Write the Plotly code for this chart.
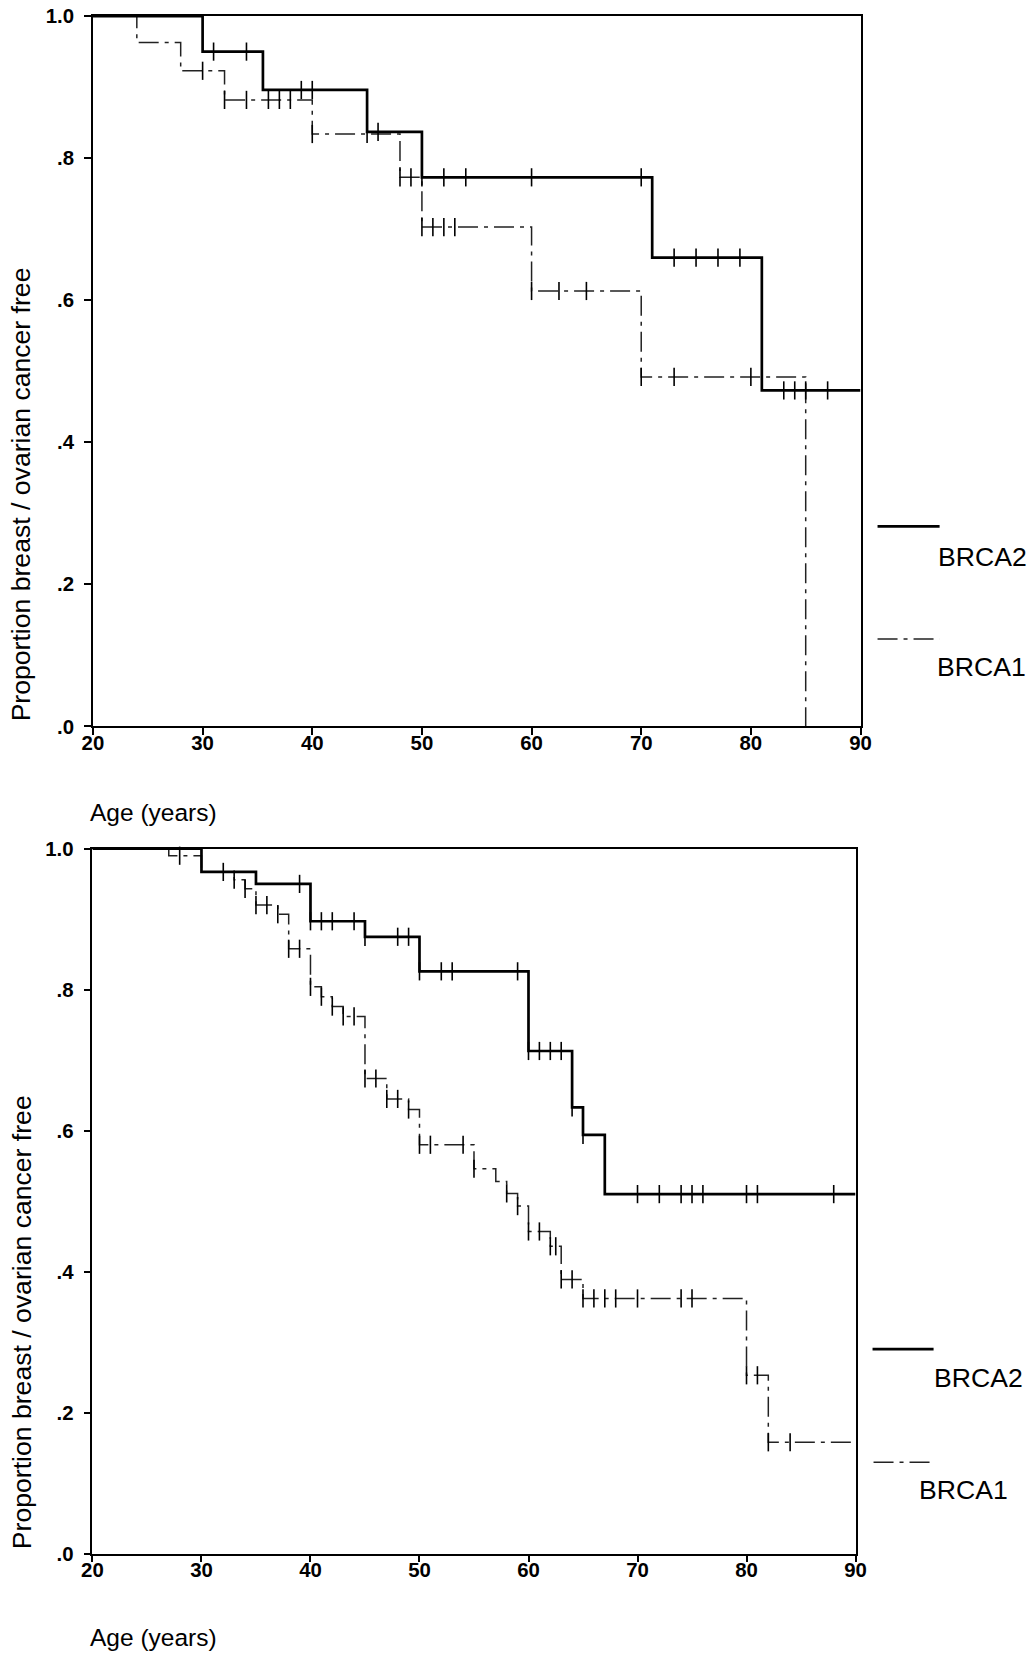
import numpy as np
import plotly.graph_objects as go

# ---------------- data ----------------
# Top panel
top_brca2_times = [30, 35.5, 45, 50, 71, 81]
top_brca2_surv = [0.950, 0.896, 0.837, 0.773, 0.660, 0.473]
top_brca2_cens = [31, 34, 39, 40, 46, 50, 52, 54, 60, 70, 73, 75, 77, 79, 83, 84, 85, 87]
top_brca2_end = 90

top_brca1_times = [24, 28, 32, 40, 48, 50, 60, 70, 85]
top_brca1_surv = [0.963, 0.923, 0.882, 0.834, 0.773, 0.703, 0.613, 0.492, 0.0]
top_brca1_cens = [30, 32, 34, 36, 37, 38, 40, 45, 48, 49, 50, 51, 52, 53, 60, 62.5, 65, 70, 73, 80]
top_brca1_end = 85

# Bottom panel
bot_brca2_times = [30, 35, 40, 45, 50, 60, 64, 65, 67]
bot_brca2_surv = [0.967, 0.950, 0.897, 0.875, 0.826, 0.713, 0.633, 0.594, 0.510]
bot_brca2_cens = [32, 39, 40, 41, 42, 44, 45, 48, 49, 50, 52, 53, 59, 60, 61, 62, 63, 64, 65,
                  70, 72, 74, 75, 76, 80, 81, 88]
bot_brca2_end = 90

bot_brca1_times = [27, 30, 33, 34, 35, 37, 38, 40, 41, 42, 43, 45, 47, 49, 50, 55, 57, 58, 59,
                   60, 62, 63, 65, 80, 82]
bot_brca1_surv = [0.990, 0.967, 0.956, 0.943, 0.920, 0.907, 0.858, 0.804, 0.790, 0.776, 0.762,
                  0.674, 0.645, 0.630, 0.580, 0.546, 0.528, 0.511, 0.493, 0.457, 0.436, 0.389,
                  0.362, 0.253, 0.158]
bot_brca1_cens = [28, 33, 34, 35, 36, 37, 38, 39, 40, 41, 42, 43, 44, 45, 46, 47, 48, 49, 50, 51,
                  54, 55, 58, 59, 60, 61, 62, 62.5, 63, 64, 65, 66, 67, 68, 70, 74, 75, 80, 81,
                  82, 84]
bot_brca1_end = 90

start_age = 20
x_ticks = [20, 30, 40, 50, 60, 70, 80, 90]
y_tickvals = [0, 0.2, 0.4, 0.6, 0.8, 1.0]
y_ticktext = [".0", ".2", ".4", ".6", ".8", "1.0"]
series_names = ["BRCA2", "BRCA1"]
y_title = "Proportion breast / ovarian cancer free"
x_title = "Age (years)"

# ---------------- placement helpers ----------------
W, H = 1034, 1656
# measured relation between page pixels (body margin removed) and the final picture
SX, OX = 0.978, 11.1
SY, OY = 0.987, 10.4


def pxx(t):
    return min(max(((t - OX) / SX) / W, 0.0), 1.0)


def pxy(t):
    return min(max(1 - ((t - OY) / SY) / H, 0.0), 1.0)


def fs(size):
    return round(size / SX, 1)


def step_path(times, surv, end):
    xs = [start_age] + list(times)
    ys = [1.0] + list(surv)
    if end > xs[-1]:
        xs.append(end)
        ys.append(ys[-1])
    return xs, ys


def surv_at(times, surv, t):
    idx = np.searchsorted(np.array(times), np.array(t), side="right")
    vals = np.concatenate([[1.0], np.array(surv)])
    return vals[idx]


FONT = "Liberation Sans, Arial, sans-serif"
SOLID = dict(color="black", width=2.7)
DASHDOT = dict(color="#222222", width=1.5, dash="20px,6px,4px,6px")

fig = go.Figure()

panels = [
    ("x", "y", top_brca2_times, top_brca2_surv, top_brca2_cens, top_brca2_end,
     top_brca1_times, top_brca1_surv, top_brca1_cens, top_brca1_end),
    ("x2", "y2", bot_brca2_times, bot_brca2_surv, bot_brca2_cens, bot_brca2_end,
     bot_brca1_times, bot_brca1_surv, bot_brca1_cens, bot_brca1_end),
]

for xa, ya, t2, s2, c2, e2, t1, s1, c1, e1 in panels:
    for times, surv, cens, end, style, name in [
        (t1, s1, c1, e1, DASHDOT, series_names[1]),
        (t2, s2, c2, e2, SOLID, series_names[0]),
    ]:
        xs, ys = step_path(times, surv, end)
        fig.add_trace(go.Scatter(
            x=xs, y=ys, mode="lines", line=dict(shape="hv", **style),
            xaxis=xa, yaxis=ya, name=name, showlegend=False, hoverinfo="skip"))
        fig.add_trace(go.Scatter(
            x=cens, y=surv_at(times, surv, cens), mode="markers",
            marker=dict(symbol="line-ns", size=13, line=dict(color="black", width=1.6)),
            xaxis=xa, yaxis=ya, name=name + " censored", showlegend=False,
            hoverinfo="skip", cliponaxis=False))

axis_common = dict(
    showline=True, linecolor="black", linewidth=1.5, mirror=True,
    ticks="outside", ticklen=7, tickwidth=1.5, tickcolor="black",
    showgrid=False, zeroline=False,
)
xaxis_style = dict(axis_common, range=[20, 90], tickvals=x_ticks,
                   ticktext=[str(v) for v in x_ticks],
                   tickfont=dict(family=FONT, size=fs(20), color="black", weight="bold"),
                   ticklabelstandoff=-10)
yaxis_style = dict(axis_common, range=[0, 1], tickvals=y_tickvals, ticktext=y_ticktext,
                   tickfont=dict(family=FONT, size=fs(20), color="black", weight="bold"),
                   ticklabelstandoff=6)

fig.update_layout(
    width=W, height=H, autosize=False,
    margin=dict(l=0, r=0, t=0, b=0),
    paper_bgcolor="white", plot_bgcolor="white",
    showlegend=False,
    xaxis=dict(xaxis_style, domain=[pxx(93), pxx(860)], anchor="y"),
    yaxis=dict(yaxis_style, domain=[pxy(726), pxy(15.5)], anchor="x"),
    xaxis2=dict(xaxis_style, domain=[pxx(92.5), pxx(855)], anchor="y2"),
    yaxis2=dict(yaxis_style, domain=[pxy(1553.5), pxy(848.3)], anchor="x2"),
)

annotations = []
shapes = []
# axis titles
for yc in [494, 1322]:
    annotations.append(dict(text=y_title, x=pxx(22), y=pxy(yc), xref="paper", yref="paper",
                            textangle=-90, showarrow=False, xanchor="center", yanchor="middle",
                            font=dict(family=FONT, size=fs(26), color="black")))
for yc in [812, 1637]:
    annotations.append(dict(text=x_title, x=pxx(153), y=pxy(yc), xref="paper", yref="paper",
                            showarrow=False, xanchor="center", yanchor="middle",
                            font=dict(family=FONT, size=fs(24), color="black")))

# legends (line sample above, label below-right)
legend_specs = [
    # (line y, line x0, line x1, text x center, text y center, name, style)
    (526, 877, 939, 982, 557, series_names[0], SOLID),
    (638.5, 877, 939, 981, 667, series_names[1], DASHDOT),
    (1349, 872, 933, 978, 1378, series_names[0], SOLID),
    (1462, 873, 932, 963, 1490, series_names[1], DASHDOT),
]
for ly, lx0, lx1, tx, ty, name, style in legend_specs:
    shapes.append(dict(type="line", xref="paper", yref="paper",
                       x0=pxx(lx0), x1=pxx(lx1), y0=pxy(ly), y1=pxy(ly),
                       line=dict(color=style["color"], width=style["width"],
                                 dash=style.get("dash", "solid"))))
    annotations.append(dict(text=name, x=pxx(tx), y=pxy(ty), xref="paper", yref="paper",
                            showarrow=False, xanchor="center", yanchor="middle",
                            font=dict(family=FONT, size=fs(26), color="black")))

fig.update_layout(annotations=annotations, shapes=shapes)

post = (
    "document.documentElement.style.margin='0';"
    "document.body.style.margin='0';document.body.style.padding='0';"
    "var gd=document.getElementById('{plot_id}');"
    "Plotly.relayout(gd,{width:%d,height:%d});" % (W, H)
)

fig.write_html("out.html", post_script=post,
               config={"displayModeBar": False, "responsive": False})
